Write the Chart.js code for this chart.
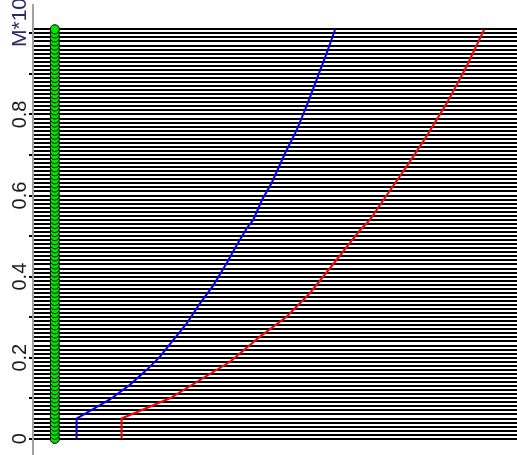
<!DOCTYPE html>
<html lang="en">
<head>
    <meta charset="UTF-8">
    <title>M curves</title>
    <script src="https://cdn.jsdelivr.net/npm/chart.js@4.4.1/dist/chart.umd.min.js"></script>
    <style>
        body {
            margin: 0;
            background-color: #fff;
        }
        .chart-container {
            width: 517px;
            height: 455px;
        }
    </style>
</head>
<body>
    <div class="chart-container">
        <canvas id="mChart"></canvas>
    </div>

    <script>
        // horizontal levels (one line + one green marker each)
        const levels = [
            0.00, 0.01, 0.02, 0.03, 0.04, 0.05, 0.06, 0.07, 0.08, 0.09,
            0.10, 0.11, 0.12, 0.13, 0.14, 0.15, 0.16, 0.17, 0.18, 0.19,
            0.20, 0.21, 0.22, 0.23, 0.24, 0.25, 0.26, 0.27, 0.28, 0.29,
            0.30, 0.31, 0.32, 0.33, 0.34, 0.35, 0.36, 0.37, 0.38, 0.39,
            0.40, 0.41, 0.42, 0.43, 0.44, 0.45, 0.46, 0.47, 0.48, 0.49,
            0.50, 0.51, 0.52, 0.53, 0.54, 0.55, 0.56, 0.57, 0.58, 0.59,
            0.60, 0.61, 0.62, 0.63, 0.64, 0.65, 0.66, 0.67, 0.68, 0.69,
            0.70, 0.71, 0.72, 0.73, 0.74, 0.75, 0.76, 0.77, 0.78, 0.79,
            0.80, 0.81, 0.82, 0.83, 0.84, 0.85, 0.86, 0.87, 0.88, 0.89,
            0.90, 0.91, 0.92, 0.93, 0.94, 0.95, 0.96, 0.97, 0.98, 0.99,
            1.00, 1.01
        ];
        const markerX = 0.45;

        // tick marks and labelled ticks on the y axis
        const tickMarks = [0, 0.1, 0.2, 0.3, 0.4, 0.5, 0.6, 0.7, 0.8, 0.9, 1.0];
        const tickLabels = [0, 0.2, 0.4, 0.6, 0.8];
        const yTitle = 'M*10^6';

        // blue curve
        const blueX = [0.90, 0.90, 1.59, 2.00, 2.35, 2.62, 2.90, 3.18, 3.45, 3.73, 4.00,
                       4.21, 4.42, 4.55, 4.73, 4.93, 5.21, 5.45, 5.65, 5.86, 6.07, 6.24];
        const blueY = [0.000, 0.050, 0.097, 0.133, 0.170, 0.202, 0.244, 0.285, 0.334, 0.379, 0.433,
                       0.478, 0.520, 0.540, 0.589, 0.631, 0.705, 0.762, 0.820, 0.886, 0.952, 1.009];

        // red curve
        const redX = [1.83, 1.83, 2.83, 3.45, 4.07, 4.69, 5.24, 5.72, 6.27, 6.76, 6.96,
                      7.24, 7.72, 8.13, 8.55, 8.96, 9.32];
        const redY = [0.000, 0.050, 0.100, 0.145, 0.190, 0.252, 0.301, 0.359, 0.441, 0.515, 0.540,
                      0.589, 0.672, 0.746, 0.828, 0.919, 1.009];

        const toPoints = (xs, ys) => xs.map((x, i) => ({ x: x, y: ys[i] }));

        const isMarked = v => tickMarks.some(t => Math.abs(t - v) < 1e-6);

        // rotated tick labels + axis title
        const yLabelPlugin = {
            id: 'yLabels',
            afterDraw(chart) {
                const ctx = chart.ctx;
                const y = chart.scales.y;
                ctx.save();
                ctx.fillStyle = '#1a1a1a';
                ctx.font = '20px "Liberation Sans", Arial, sans-serif';
                ctx.textAlign = 'center';
                ctx.textBaseline = 'alphabetic';
                tickLabels.forEach(v => {
                    ctx.save();
                    ctx.translate(26, y.getPixelForValue(v));
                    ctx.rotate(-Math.PI / 2);
                    ctx.fillText(String(v), 0, 0);
                    ctx.restore();
                });
                ctx.fillStyle = '#2a2a66';
                ctx.font = '21px "Liberation Sans", Arial, sans-serif';
                ctx.textAlign = 'left';
                ctx.translate(26, 47);
                ctx.rotate(-Math.PI / 2);
                ctx.fillText(yTitle, 0, 0);
                ctx.restore();
            }
        };

        const ctx = document.getElementById('mChart').getContext('2d');
        new Chart(ctx, {
            type: 'scatter',
            data: {
                datasets: [
                    {
                        label: 'blue',
                        data: toPoints(blueX, blueY),
                        showLine: true,
                        borderColor: '#0000ff',
                        borderWidth: 2,
                        pointRadius: 0,
                        fill: false
                    },
                    {
                        label: 'red',
                        data: toPoints(redX, redY),
                        showLine: true,
                        borderColor: '#ff0000',
                        borderWidth: 2,
                        pointRadius: 0,
                        fill: false
                    },
                    {
                        label: 'markers',
                        data: levels.map(v => ({ x: markerX, y: v })),
                        pointRadius: 4.6,
                        pointBackgroundColor: '#00e600',
                        pointBorderColor: '#000000',
                        pointBorderWidth: 1
                    }
                ]
            },
            options: {
                responsive: true,
                maintainAspectRatio: false,
                animation: false,
                events: [],
                layout: {
                    autoPadding: false,
                    padding: { left: 29, top: 5, right: 0, bottom: 0 }
                },
                plugins: {
                    legend: { display: false },
                    tooltip: { enabled: false }
                },
                scales: {
                    x: {
                        type: 'linear',
                        display: false,
                        min: 0,
                        max: 10
                    },
                    y: {
                        type: 'linear',
                        min: -0.04,
                        max: 1.07,
                        afterBuildTicks: scale => {
                            scale.ticks = levels.map(v => ({ value: v }));
                        },
                        ticks: { display: false },
                        grid: {
                            color: '#000000',
                            lineWidth: 2,
                            tickLength: 4,
                            tickColor: c => isMarked(c.tick.value) ? '#000000' : 'rgba(0,0,0,0)'
                        },
                        border: {
                            display: true,
                            color: '#a0a0a0',
                            width: 2
                        }
                    }
                }
            },
            plugins: [yLabelPlugin]
        });
    </script>
</body>
</html>
